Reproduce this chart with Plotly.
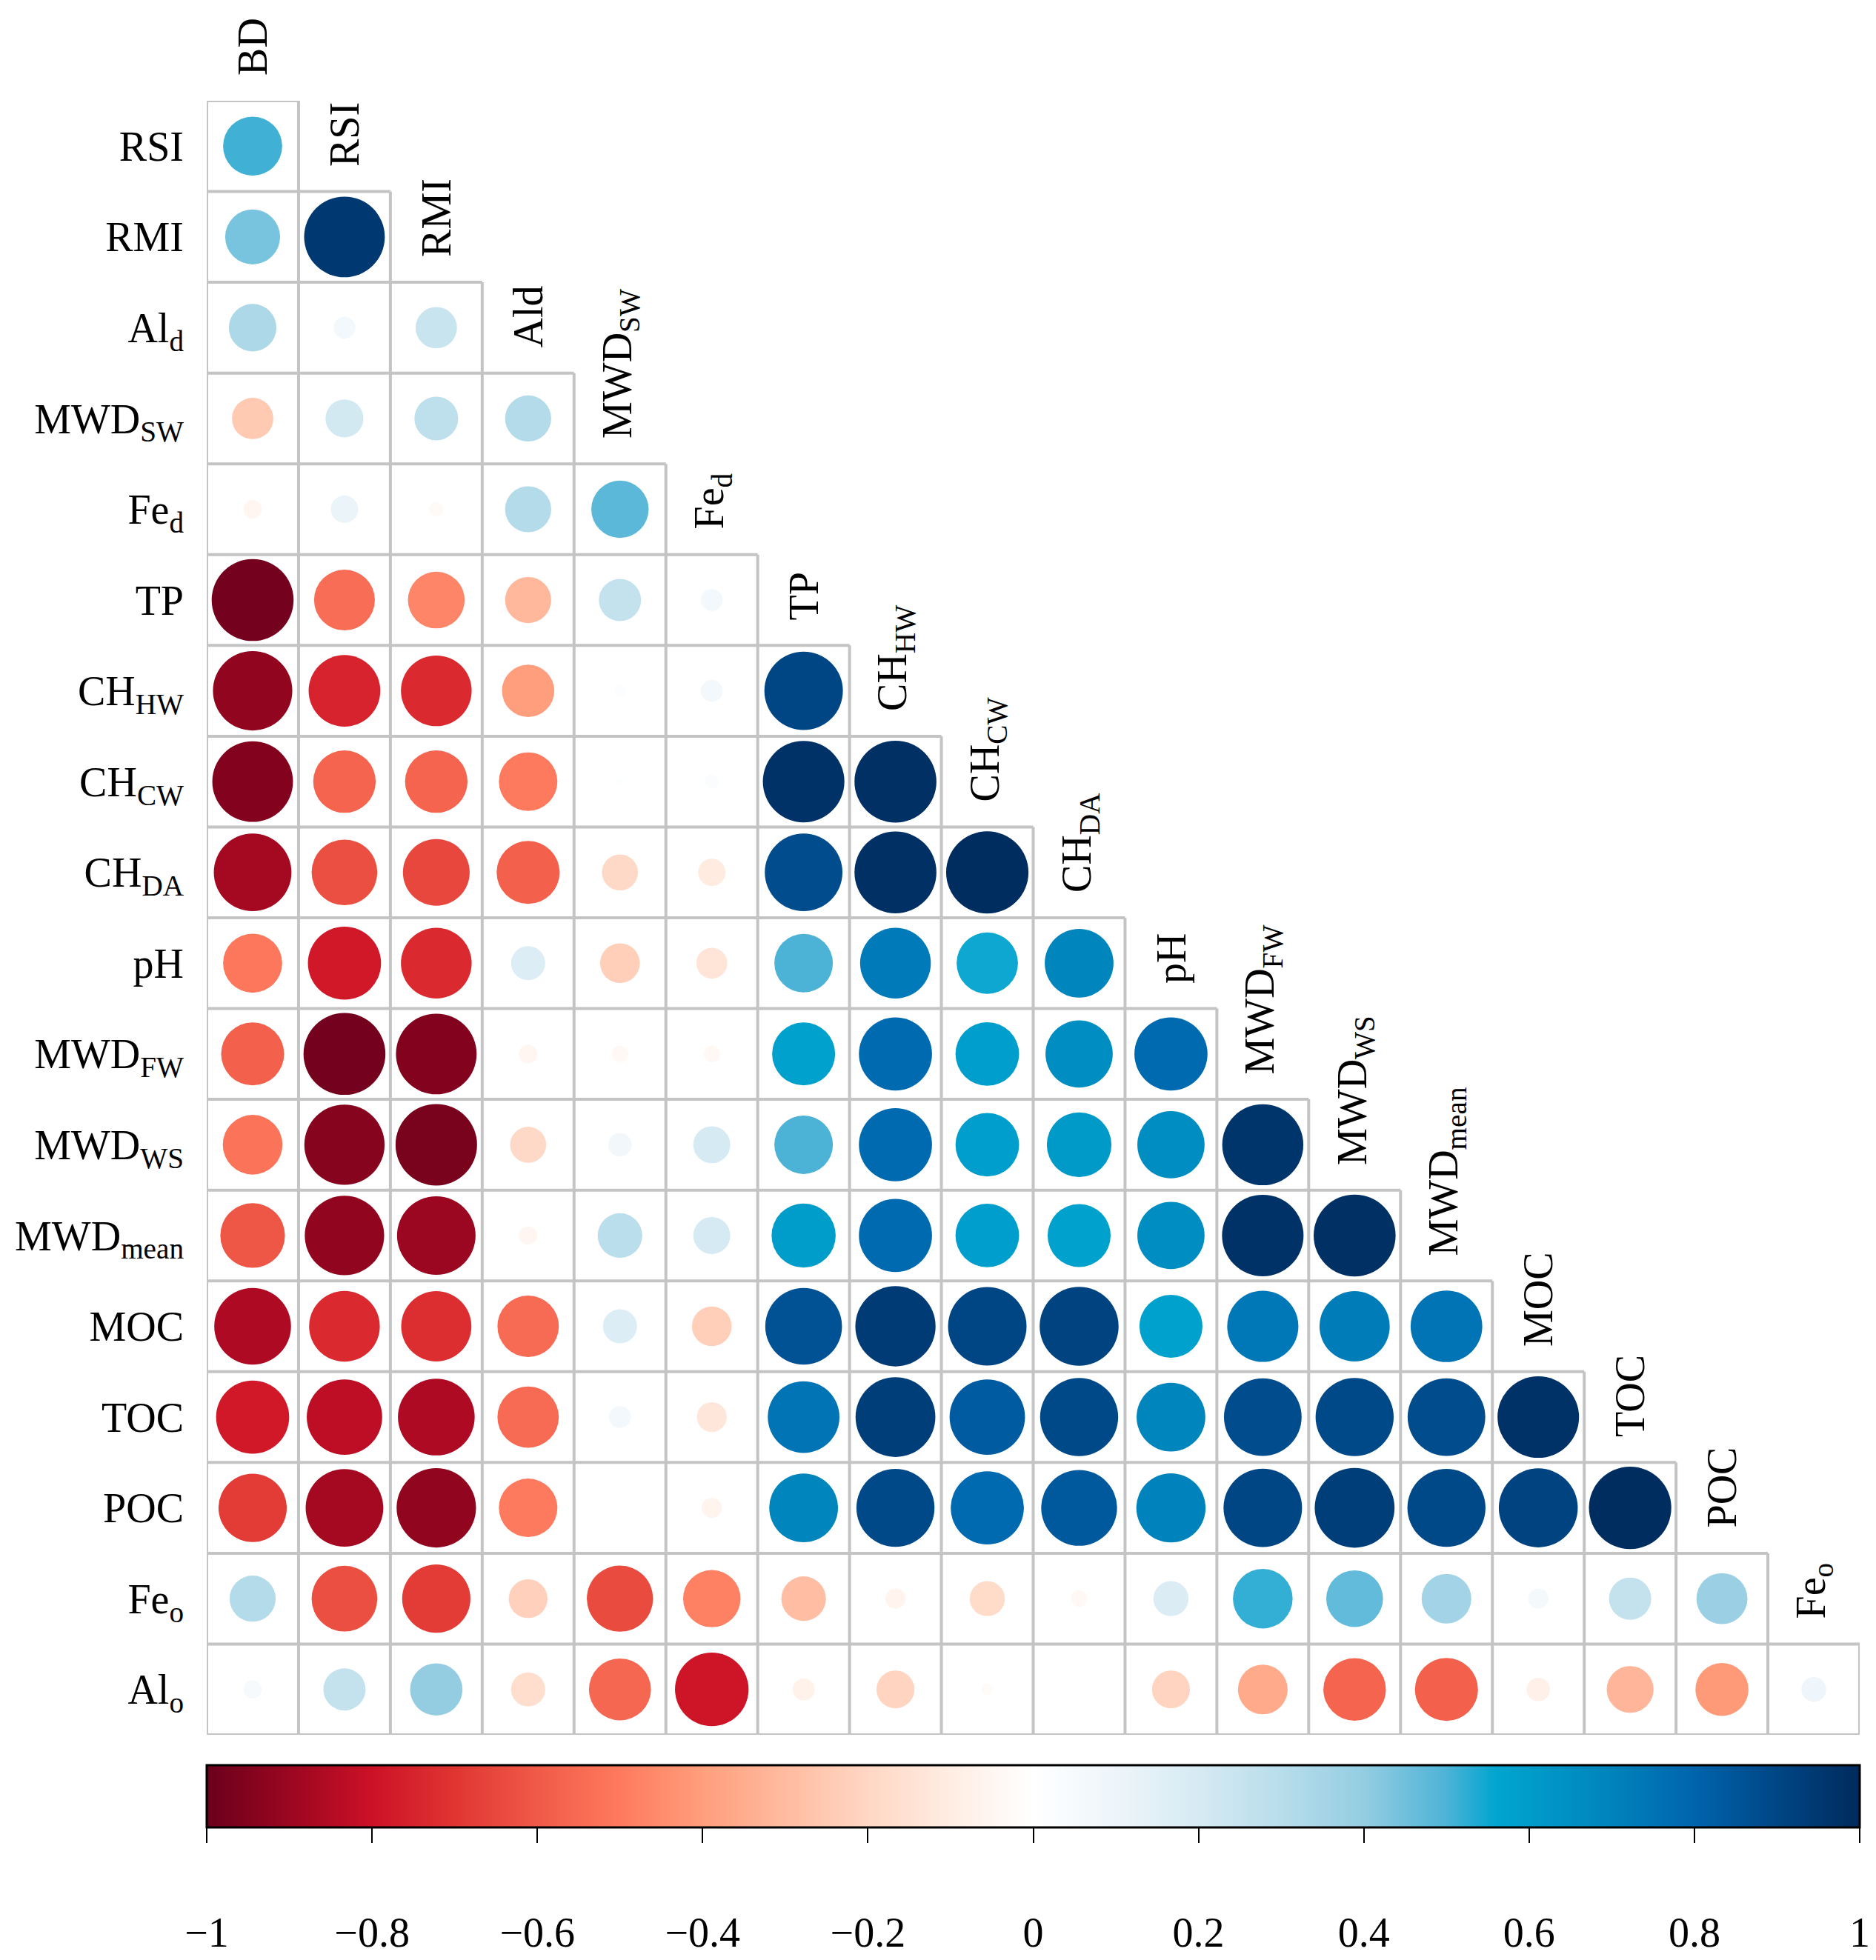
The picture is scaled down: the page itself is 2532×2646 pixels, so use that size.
import numpy as np
import plotly.graph_objects as go

# variable names (rows skip the first, columns skip the last)
row_labels = ["RSI", "RMI", "Al<sub>d</sub>", "MWD<sub>SW</sub>", "Fe<sub>d</sub>", "TP",
              "CH<sub>HW</sub>", "CH<sub>CW</sub>", "CH<sub>DA</sub>", "pH", "MWD<sub>FW</sub>",
              "MWD<sub>WS</sub>", "MWD<sub>mean</sub>", "MOC", "TOC", "POC",
              "Fe<sub>o</sub>", "Al<sub>o</sub>"]
col_labels = ["BD", "RSI", "RMI", "Ald", "MWD<sub>SW</sub>", "Fe<sub>d</sub>", "TP",
              "CH<sub>HW</sub>", "CH<sub>CW</sub>", "CH<sub>DA</sub>", "pH", "MWD<sub>FW</sub>",
              "MWD<sub>WS</sub>", "MWD<sub>mean</sub>", "MOC", "TOC", "POC", "Fe<sub>o</sub>"]

# lower triangle of the correlation matrix, one list per row
r_RSI = [0.51]
r_RMI = [0.44, 0.95]
r_Ald = [0.33, 0.07, 0.25]
r_MWDsw = [-0.25, 0.21, 0.28, 0.31]
r_Fed = [-0.05, 0.11, -0.03, 0.31, 0.48]
r_TP = [-0.98, -0.54, -0.47, -0.31, 0.26, 0.07]
r_CHhw = [-0.92, -0.75, -0.73, -0.40, 0.02, 0.07, 0.90]
r_CHcw = [-0.95, -0.57, -0.57, -0.50, 0.01, 0.03, 0.97, 0.98]
r_CHda = [-0.88, -0.63, -0.65, -0.58, -0.19, -0.11, 0.88, 0.98, 0.99]
r_pH = [-0.51, -0.78, -0.73, 0.17, -0.23, -0.14, 0.50, 0.73, 0.55, 0.69]
r_MWDfw = [-0.58, -0.98, -0.95, -0.05, -0.04, -0.04, 0.58, 0.78, 0.59, 0.66, 0.78]
r_MWDws = [-0.52, -0.94, -0.97, -0.19, 0.08, 0.20, 0.50, 0.78, 0.59, 0.61, 0.66, 0.96]
r_MWDmean = [-0.61, -0.92, -0.90, -0.05, 0.29, 0.20, 0.60, 0.78, 0.59, 0.58, 0.66, 0.97, 0.98]
r_MOC = [-0.86, -0.73, -0.72, -0.55, 0.17, -0.23, 0.86, 0.94, 0.90, 0.91, 0.58, 0.74, 0.72, 0.75]
r_TOC = [-0.78, -0.83, -0.86, -0.55, 0.07, -0.13, 0.75, 0.93, 0.83, 0.89, 0.69, 0.88, 0.89,
         0.88, 0.97]
r_POC = [-0.68, -0.88, -0.92, -0.50, 0.00, -0.06, 0.69, 0.89, 0.78, 0.84, 0.70, 0.90, 0.93,
         0.89, 0.91, 0.99]
r_Feo = [0.31, -0.63, -0.68, -0.22, -0.64, -0.48, -0.29, -0.06, -0.18, -0.04, 0.18, 0.52,
         0.47, 0.36, 0.06, 0.26, 0.38]
r_Alo = [0.05, 0.26, 0.40, -0.17, -0.56, -0.79, -0.07, -0.21, -0.02, 0.00, -0.21, -0.36,
         -0.57, -0.58, -0.08, -0.32, -0.41, 0.09]

rows = [r_RSI, r_RMI, r_Ald, r_MWDsw, r_Fed, r_TP, r_CHhw, r_CHcw, r_CHda, r_pH, r_MWDfw,
        r_MWDws, r_MWDmean, r_MOC, r_TOC, r_POC, r_Feo, r_Alo]

cbar_ticks = [-1, -0.8, -0.6, -0.4, -0.2, 0, 0.2, 0.4, 0.6, 0.8, 1]
cbar_text = ["\u22121", "\u22120.8", "\u22120.6", "\u22120.4", "\u22120.2", "0",
             "0.2", "0.4", "0.6", "0.8", "1"]

colors = [
    [0.00, "#6a001c"], [0.05, "#9b0620"], [0.10, "#cc1127"], [0.15, "#e03532"],
    [0.20, "#f05a48"], [0.25, "#fe7a5e"], [0.30, "#ff9e7c"], [0.35, "#ffbba0"],
    [0.40, "#ffd7c4"], [0.45, "#ffede3"], [0.50, "#ffffff"], [0.55, "#edf5fa"],
    [0.60, "#d6eaf3"], [0.65, "#b8ddeb"], [0.70, "#94cde2"], [0.75, "#4db3d6"],
    [0.78, "#00a5d0"], [0.80, "#009cca"], [0.85, "#0083bc"], [0.90, "#0064ad"],
    [0.95, "#004685"], [1.00, "#002a5c"],
]

W, H = 2532, 2646
ML, MR, MT, MB = 268, 30, 128, 285
n = len(col_labels)
cell = (W - ML - MR) / n
font = "Liberation Serif"

xs, ys, vals = [], [], []
for i, row in enumerate(rows):
    for j, v in enumerate(row):
        xs.append(j)
        ys.append(i)
        vals.append(v)
vals = np.array(vals)
sizes = 0.9 * cell * np.sqrt(np.abs(vals))

# grid lines around the lower-triangle cells
gx, gy = [], []
for r in range(n + 1):
    gx += [-0.5, min(r, n - 1) + 0.5, None]
    gy += [r - 0.5, r - 0.5, None]
for k in range(n + 1):
    gx += [k - 0.5, k - 0.5, None]
    gy += [max(k - 1, 0) - 0.5, n - 0.5, None]

fig = go.Figure()
fig.add_trace(go.Scatter(
    x=gx, y=gy, mode="lines",
    line=dict(color="#c4c4c4", width=4),
    hoverinfo="skip", showlegend=False))

fig.add_trace(go.Scatter(
    x=xs, y=ys, mode="markers",
    marker=dict(
        size=sizes, color=vals, colorscale=colors, cmin=-1, cmax=1,
        opacity=1, line=dict(width=0),
        colorbar=dict(
            orientation="h", x=0.5, xanchor="center", len=1, lenmode="fraction",
            y=-0.0188, yanchor="top", thickness=84, xpad=0, ypad=0,
            outlinecolor="black", outlinewidth=3,
            tickmode="array", tickvals=cbar_ticks,
            ticktext=["<br>" + t for t in cbar_text],
            ticks="outside", ticklen=20, tickwidth=2, tickcolor="black",
            tickfont=dict(family=font, size=56, color="black"),
        ),
    ),
    text=[f"{v:.2f}" for v in vals], hoverinfo="text", showlegend=False))

annotations = []
for j, lab in enumerate(col_labels):
    annotations.append(dict(
        x=j, y=j - 0.5, xref="x", yref="y", text=lab, showarrow=False,
        textangle=-90, xanchor="center", yanchor="bottom", yshift=32,
        font=dict(family=font, size=56, color="black")))

fig.update_layout(
    width=W, height=H,
    margin=dict(l=ML, r=MR, t=MT, b=MB),
    paper_bgcolor="white", plot_bgcolor="white",
    annotations=annotations,
    xaxis=dict(range=[-0.5, n - 0.5], showgrid=False, zeroline=False,
               showticklabels=False, fixedrange=True),
    yaxis=dict(range=[n - 0.5, -0.5], showgrid=False, zeroline=False,
               tickmode="array", tickvals=list(range(n)), ticktext=row_labels,
               ticks="", ticklabelstandoff=30,
               tickfont=dict(family=font, size=56, color="black"), fixedrange=True),
)

fig.write_html("out.html")
